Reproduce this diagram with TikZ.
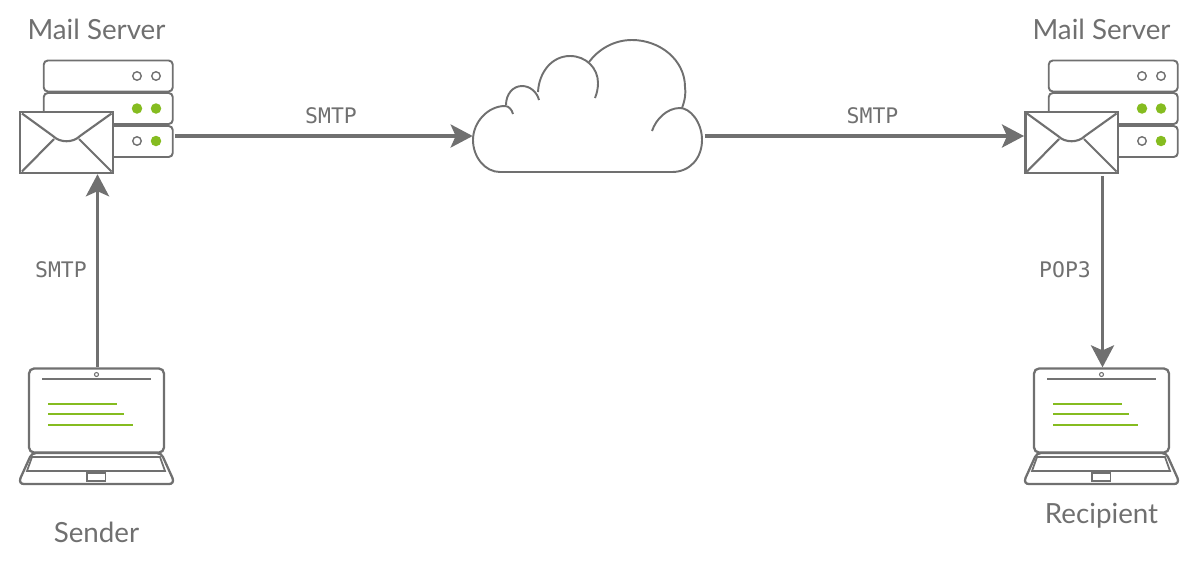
\documentclass[tikz,border=0pt]{standalone}
\usepackage{fontspec}
\setmainfont{Lato}
\setmonofont{DejaVu Sans Mono}
\usepackage{xcolor}
\usetikzlibrary{arrows.meta}
\definecolor{figgray}{RGB}{112,112,112}
\definecolor{figgreen}{RGB}{133,188,32}
\tikzstyle{rackbox} = [rectangle, rounded corners=0.08cm, draw=figgray, line width=1.1pt,
minimum width=2.58cm, minimum height=0.62cm, inner sep=0pt]
\tikzstyle{mailbox} = [rectangle, draw=figgray, fill=white, line width=1.4pt,
minimum width=1.86cm, minimum height=1.22cm, inner sep=0pt]
\tikzstyle{screenbox} = [rectangle, rounded corners=0.1cm, draw=figgray, line width=1.3pt,
minimum width=2.7cm, minimum height=1.68cm, inner sep=0pt]
\tikzstyle{ledoff} = [draw=figgray, line width=0.8pt]
\tikzstyle{ledon} = [fill=figgreen]
\tikzstyle{thinline} = [draw=figgray, line width=1pt]
\tikzstyle{textline} = [draw=figgreen, line width=1.15pt]
\tikzstyle{arrow} = [-{Stealth[length=4.4mm, width=4.6mm, inset=1mm]}, line width=2.05pt, draw=figgray]
\tikzstyle{titlelabel} = [text=figgray, font=\fontsize{15.8}{18}\selectfont, inner sep=0pt]
\tikzstyle{linklabel} = [text=figgray, font=\ttfamily\fontsize{12.2}{14}\selectfont, inner sep=0pt]
\tikzset{
    mailserver/.pic={
        \node (row1) [rackbox] at (108.25,76) {};
        \node (row2) [rackbox] at (108.25,108.5) {};
        \node (row3) [rackbox] at (108.25,141.5) {};
        \draw[ledoff] (137,76) circle (0.085cm) (156,76) circle (0.085cm) (137,141) circle (0.085cm);
        \fill[ledon] (137,108.5) circle (0.105cm) (156,108.5) circle (0.105cm) (156,141) circle (0.105cm);
        \node (mail) [mailbox] at (66.75,142.5) {};
        \draw[thinline, line width=1.2pt] (22,113.5) -- (53,136) .. controls (60,143) and (73,143) .. (80,136) -- (111.5,113.5);
        \draw[thinline, line width=1.2pt] (22,171.5) -- (54,139);
        \draw[thinline, line width=1.2pt] (111.5,171.5) -- (79,139);
        \coordinate (out) at (175,136);
    },
    notebook/.pic={
        \node (screen) [screenbox] at (96.5,410.5) {};
        \draw[thinline, gray!90!black] (42,379) -- (151,379);
        \draw[ledoff, line width=0.6pt] (96.5,374.5) circle (0.04cm);
        \draw[textline] (48,403.5) -- (117,403.5);
        \draw[textline] (48,414) -- (124,414);
        \draw[textline] (48,425) -- (133,425);
        \draw[figgray, line width=1.3pt] (36,453) -- (157,453) .. controls (160,453) and (162,455) .. (163,457)
        -- (172.5,478) .. controls (174,482) and (172,484) .. (169,484) -- (24,484)
        .. controls (21,484) and (19,482) .. (20.5,478) -- (30,457) .. controls (31,455) and (33,453) .. (36,453) -- cycle;
        \draw[thinline] (32,457) -- (160,457) -- (165,471) -- (27,471) -- cycle;
        \draw[thinline, line width=0.8pt] (87,473) rectangle (105.5,481);
    },
}

\begin{document}
\begin{tikzpicture}[x=0.02cm, y=-0.02cm]
    \useasboundingbox (0,0) rectangle (1200,562);

    \pic (left) at (0,0) {mailserver};
    \pic (right) at (1005,0) {mailserver};
    \pic (sender) at (0,0) {notebook};
    \pic (recipient) at (1005,0) {notebook};

    \node (cloud) [minimum width=4.58cm, minimum height=2.64cm, inner sep=0pt] at (587.5,106) {};
    \draw[figgray, line width=1.1pt]
    (500,172) -- (672,172) .. controls (690,172) and (702,158) .. (702,140)
    .. controls (702,122) and (690,108) .. (680,108) .. controls (667,108) and (656,119) .. (652,131);
    \draw[figgray, line width=1.1pt]
    (682,108) .. controls (685,100) and (686,93) .. (685,87) .. controls (685,60) and (660,40) .. (632,40)
    .. controls (613,40) and (598,50) .. (589,62);
    \draw[figgray, line width=1.1pt]
    (538,92) .. controls (539,72) and (552,56) .. (570,56) .. controls (586,56) and (598,68) .. (598,83)
    .. controls (598,88) and (597,93) .. (595,98);
    \draw[figgray, line width=1.1pt]
    (506,105) .. controls (506,94) and (513,86) .. (522,86) .. controls (530,86) and (537,92) .. (539,100);
    \draw[figgray, line width=1.1pt]
    (500,172) .. controls (485,172) and (473,157) .. (473,140) .. controls (473,122) and (488,106) .. (505,106)
    .. controls (509,106) and (512,110) .. (513,114);

    \node (titleleft)  [titlelabel] at (96.5,29) {Mail Server};
    \node (titleright) [titlelabel] at (1101.5,29) {Mail Server};
    \node (titlesend)  [titlelabel] at (96.5,532) {Sender};
    \node (titlerecv)  [titlelabel] at (1101.5,516) {Recipient};

    \node (smtpa) [linklabel] at (331,116) {SMTP};
    \node (smtpb) [linklabel] at (872.5,116) {SMTP};
    \node (smtpc) [linklabel] at (61,270) {SMTP};
    \node (popc)  [linklabel] at (1065,270) {POP3};

    \draw[arrow] (leftout) -- (leftout -| cloud.west);
    \draw[arrow] ([xshift=0.06cm]leftout -| cloud.east) -- (leftout -| rightmail.west);
    \draw[arrow] ([xshift=0.02cm]senderscreen.north) -- ([xshift=0.02cm]senderscreen.north |- leftmail.south);
    \draw[arrow] ([xshift=0.02cm,yshift=-0.04cm]recipientscreen.north |- rightmail.south) -- ([xshift=0.02cm]recipientscreen.north);
\end{tikzpicture}
\end{document}
